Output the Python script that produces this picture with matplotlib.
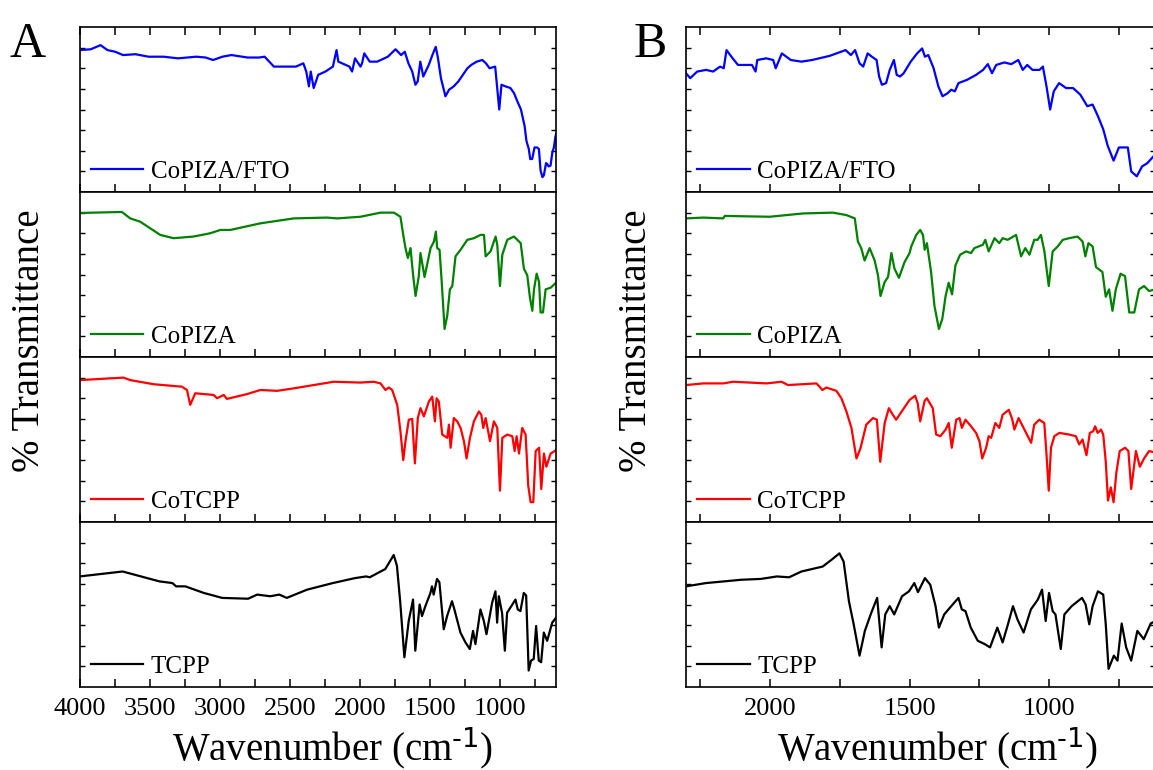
import matplotlib
matplotlib.use("Agg")
import matplotlib.pyplot as plt
from matplotlib.ticker import MultipleLocator, NullFormatter

plt.rcParams['font.family'] = ['Liberation Serif', 'DejaVu Serif']
plt.rcParams['mathtext.default'] = 'regular'

# ---------------- data (wavenumber, normalised transmittance within each panel) ----------------
# Panel A (4000-600 cm-1)
a_fto_wn = [4000, 3920, 3850, 3800, 3745, 3690, 3600, 3508, 3400, 3297, 3166, 3100, 3047, 2980, 2916,
            2800, 2718, 2679, 2613, 2455, 2403, 2382, 2363, 2350, 2329, 2297, 2245, 2192, 2166, 2153,
            2074, 2055, 2034, 1995, 1984, 1968, 1929, 1876, 1800, 1745, 1705, 1679, 1653, 1626, 1603,
            1587, 1568, 1547, 1508, 1482, 1458, 1442, 1421, 1389, 1363, 1330, 1297, 1232, 1205, 1166,
            1126, 1100, 1074, 1034, 1005, 989, 960, 925, 900, 876, 850, 824, 811, 794, 784, 770, 753,
            735, 722, 710, 697, 687, 671, 663, 653, 639, 626, 615, 605, 600]
a_fto_t = [0.86, 0.865, 0.89, 0.86, 0.85, 0.83, 0.835, 0.82, 0.82, 0.81, 0.82, 0.815, 0.80, 0.82, 0.83,
           0.815, 0.815, 0.82, 0.76, 0.76, 0.78, 0.73, 0.64, 0.73, 0.63, 0.71, 0.73, 0.76, 0.86, 0.79,
           0.76, 0.73, 0.81, 0.76, 0.78, 0.84, 0.79, 0.79, 0.82, 0.865, 0.83, 0.85, 0.78, 0.73, 0.65,
           0.67, 0.79, 0.70, 0.77, 0.83, 0.88, 0.81, 0.69, 0.58, 0.62, 0.64, 0.67, 0.75, 0.77, 0.79,
           0.80, 0.78, 0.75, 0.76, 0.50, 0.65, 0.64, 0.63, 0.60, 0.55, 0.50, 0.40, 0.31, 0.26, 0.20, 0.20,
           0.27, 0.27, 0.26, 0.13, 0.09, 0.10, 0.175, 0.17, 0.155, 0.16, 0.24, 0.27, 0.33, 0.35]

a_copiza_wn = [4000, 3698, 3638, 3567, 3424, 3329, 3186, 3067, 2995, 2924, 2710, 2471, 2233, 2162, 1995,
               1852, 1757, 1710, 1690, 1674, 1657, 1638, 1619, 1602, 1579, 1567, 1538, 1495, 1471, 1457,
               1448, 1431, 1417, 1395, 1376, 1357, 1340, 1317, 1281, 1233, 1186, 1138, 1114, 1102, 1067,
               1031, 1019, 1000, 983, 948, 900, 852, 829, 805, 786, 769, 757, 738, 721, 710, 693, 674,
               638, 600]
a_copiza_t = [0.873, 0.879, 0.84, 0.82, 0.74, 0.72, 0.73, 0.75, 0.77, 0.77, 0.81, 0.84, 0.845, 0.84, 0.85,
              0.875, 0.875, 0.85, 0.74, 0.66, 0.60, 0.66, 0.49, 0.37, 0.49, 0.63, 0.485, 0.66, 0.70, 0.76,
              0.66, 0.65, 0.475, 0.17, 0.25, 0.41, 0.43, 0.61, 0.65, 0.71, 0.72, 0.74, 0.74, 0.61, 0.64,
              0.73, 0.68, 0.43, 0.62, 0.71, 0.73, 0.69, 0.535, 0.495, 0.36, 0.28, 0.41, 0.505, 0.455, 0.27,
              0.27, 0.41, 0.42, 0.45]

a_cotcpp_wn = [4000, 3686, 3638, 3471, 3269, 3233, 3210, 3174, 3043, 3019, 2971, 2948, 2805, 2710, 2590,
               2471, 2329, 2186, 1995, 1900, 1852, 1817, 1793, 1769, 1733, 1710, 1690, 1674, 1650, 1626,
               1607, 1586, 1567, 1543, 1507, 1483, 1464, 1452, 1436, 1412, 1376, 1364, 1352, 1329, 1305,
               1281, 1257, 1238, 1214, 1186, 1150, 1133, 1119, 1102, 1071, 1043, 1019, 1000, 983, 948,
               912, 895, 881, 864, 841, 817, 798, 781, 762, 745, 721, 705, 686, 669, 638, 600]
a_cotcpp_t = [0.86, 0.875, 0.86, 0.835, 0.82, 0.80, 0.71, 0.78, 0.77, 0.75, 0.77, 0.746, 0.775, 0.80, 0.795,
              0.81, 0.83, 0.85, 0.845, 0.85, 0.84, 0.80, 0.815, 0.80, 0.71, 0.55, 0.375, 0.49, 0.62, 0.625,
              0.355, 0.63, 0.69, 0.64, 0.73, 0.76, 0.61, 0.75, 0.73, 0.53, 0.51, 0.59, 0.45, 0.63, 0.61,
              0.57, 0.49, 0.385, 0.51, 0.61, 0.67, 0.65, 0.57, 0.63, 0.49, 0.61, 0.57, 0.19, 0.51, 0.53,
              0.52, 0.43, 0.52, 0.415, 0.57, 0.53, 0.22, 0.12, 0.12, 0.43, 0.45, 0.20, 0.415, 0.335, 0.415,
              0.435]

a_tcpp_wn = [4000, 3692, 3561, 3429, 3337, 3311, 3245, 3113, 2982, 2797, 2732, 2639, 2574, 2521, 2376,
             2192, 2034, 1955, 1929, 1818, 1758, 1735, 1711, 1682, 1651, 1620, 1604, 1573, 1556, 1532,
             1496, 1485, 1473, 1449, 1432, 1401, 1377, 1342, 1325, 1282, 1246, 1215, 1192, 1175, 1139,
             1115, 1096, 1056, 1032, 1020, 1008, 985, 965, 949, 889, 873, 854, 830, 813, 795, 778, 759,
             742, 723, 706, 687, 663, 627, 600]
a_tcpp_t = [0.67, 0.70, 0.67, 0.64, 0.63, 0.61, 0.61, 0.57, 0.54, 0.535, 0.56, 0.55, 0.56, 0.54, 0.59,
            0.63, 0.66, 0.67, 0.665, 0.715, 0.80, 0.735, 0.51, 0.18, 0.40, 0.53, 0.22, 0.50, 0.43, 0.49,
            0.57, 0.61, 0.56, 0.655, 0.635, 0.35, 0.43, 0.52, 0.47, 0.33, 0.27, 0.23, 0.34, 0.26, 0.47,
            0.40, 0.32, 0.51, 0.58, 0.39, 0.55, 0.45, 0.22, 0.45, 0.53, 0.47, 0.46, 0.57, 0.555, 0.10, 0.16,
            0.17, 0.37, 0.16, 0.15, 0.33, 0.28, 0.39, 0.42]

# Panel B (2300-620 cm-1)
b_fto_wn = [2300, 2285, 2260, 2228, 2203, 2178, 2165, 2155, 2133, 2114, 2064, 2051, 2045, 2013, 1988,
            1979, 1957, 1925, 1887, 1849, 1786, 1729, 1710, 1695, 1679, 1666, 1650, 1635, 1618, 1609,
            1599, 1584, 1571, 1556, 1546, 1534, 1521, 1496, 1473, 1455, 1445, 1433, 1414, 1397, 1382,
            1363, 1351, 1338, 1325, 1294, 1262, 1237, 1220, 1205, 1190, 1161, 1136, 1111, 1095, 1079,
            1060, 1035, 1023, 1010, 997, 984, 965, 940, 915, 889, 864, 845, 826, 807, 791, 770, 751,
            719, 707, 687, 668, 649, 620]
b_fto_t = [0.72, 0.69, 0.73, 0.74, 0.73, 0.76, 0.75, 0.86, 0.81, 0.77, 0.77, 0.73, 0.80, 0.81, 0.80,
           0.75, 0.84, 0.80, 0.79, 0.80, 0.825, 0.86, 0.83, 0.86, 0.78, 0.76, 0.84, 0.82, 0.80, 0.70,
           0.65, 0.66, 0.74, 0.80, 0.71, 0.70, 0.72, 0.79, 0.84, 0.87, 0.82, 0.83, 0.75, 0.64, 0.58,
           0.60, 0.62, 0.61, 0.66, 0.68, 0.71, 0.74, 0.775, 0.72, 0.77, 0.785, 0.775, 0.80, 0.74, 0.77,
           0.74, 0.74, 0.76, 0.64, 0.50, 0.61, 0.66, 0.63, 0.63, 0.59, 0.52, 0.53, 0.46, 0.38, 0.28, 0.19,
           0.27, 0.27, 0.125, 0.095, 0.155, 0.175, 0.23]

b_copiza_wn = [2300, 2238, 2167, 2161, 2000, 1881, 1774, 1726, 1696, 1685, 1673, 1661, 1643, 1625, 1613,
               1604, 1589, 1577, 1565, 1554, 1538, 1518, 1500, 1494, 1476, 1462, 1452, 1446, 1438, 1423,
               1411, 1395, 1383, 1371, 1360, 1348, 1336, 1319, 1298, 1280, 1268, 1238, 1229, 1217, 1196,
               1179, 1167, 1149, 1119, 1101, 1086, 1071, 1054, 1042, 1030, 1018, 1002, 988, 970, 952, 929,
               899, 881, 871, 860, 845, 833, 810, 798, 786, 774, 762, 745, 729, 714, 696, 679, 661, 643, 620]
b_copiza_t = [0.84, 0.845, 0.84, 0.855, 0.85, 0.87, 0.875, 0.86, 0.84, 0.70, 0.66, 0.585, 0.66, 0.585, 0.495,
              0.37, 0.455, 0.485, 0.63, 0.535, 0.48, 0.575, 0.63, 0.67, 0.74, 0.77, 0.74, 0.65, 0.69, 0.515,
              0.31, 0.17, 0.23, 0.37, 0.45, 0.38, 0.555, 0.62, 0.64, 0.63, 0.66, 0.68, 0.71, 0.64, 0.72,
              0.69, 0.72, 0.71, 0.74, 0.61, 0.66, 0.62, 0.71, 0.71, 0.74, 0.645, 0.43, 0.64, 0.67, 0.71, 0.72,
              0.73, 0.70, 0.61, 0.69, 0.67, 0.545, 0.515, 0.365, 0.41, 0.28, 0.41, 0.505, 0.49, 0.27, 0.27,
              0.41, 0.43, 0.40, 0.41]

b_cotcpp_wn = [2300, 2238, 2167, 2131, 2012, 1958, 1935, 1833, 1812, 1798, 1762, 1744, 1726, 1708, 1690,
               1676, 1655, 1631, 1617, 1605, 1589, 1574, 1560, 1548, 1524, 1500, 1480, 1471, 1462, 1446,
               1438, 1417, 1405, 1390, 1371, 1360, 1349, 1333, 1321, 1313, 1300, 1280, 1262, 1250, 1240,
               1226, 1217, 1208, 1193, 1179, 1167, 1145, 1133, 1125, 1110, 1095, 1077, 1065, 1054, 1036,
               1018, 1010, 1002, 994, 982, 964, 929, 905, 893, 881, 867, 855, 843, 836, 827, 815, 807, 798,
               790, 780, 770, 760, 748, 729, 717, 707, 690, 676, 661, 643, 620]
b_cotcpp_t = [0.83, 0.84, 0.84, 0.85, 0.84, 0.85, 0.83, 0.84, 0.80, 0.815, 0.795, 0.75, 0.67, 0.57, 0.385,
              0.445, 0.59, 0.63, 0.62, 0.365, 0.60, 0.69, 0.65, 0.62, 0.68, 0.74, 0.765, 0.72, 0.61, 0.735,
              0.75, 0.69, 0.53, 0.52, 0.56, 0.60, 0.45, 0.62, 0.63, 0.57, 0.62, 0.58, 0.54, 0.49, 0.385,
              0.45, 0.52, 0.51, 0.60, 0.57, 0.65, 0.68, 0.625, 0.56, 0.63, 0.58, 0.52, 0.48, 0.59, 0.62,
              0.60, 0.41, 0.19, 0.45, 0.52, 0.54, 0.53, 0.52, 0.47, 0.50, 0.405, 0.54, 0.55, 0.58, 0.54,
              0.56, 0.53, 0.365, 0.13, 0.21, 0.12, 0.30, 0.43, 0.45, 0.43, 0.20, 0.43, 0.335, 0.385, 0.43,
              0.42]

b_tcpp_wn = [2300, 2228, 2165, 2102, 2032, 1975, 1931, 1887, 1811, 1780, 1751, 1736, 1717, 1700, 1679,
             1660, 1637, 1616, 1600, 1587, 1571, 1555, 1527, 1502, 1483, 1470, 1445, 1426, 1407, 1395,
             1376, 1351, 1325, 1313, 1300, 1281, 1256, 1231, 1212, 1186, 1167, 1148, 1130, 1114, 1092,
             1066, 1041, 1026, 1013, 1001, 988, 978, 959, 946, 920, 883, 870, 857, 845, 826, 807, 798,
             788, 769, 756, 741, 725, 707, 685, 662, 637, 620]
b_tcpp_t = [0.61, 0.63, 0.64, 0.65, 0.655, 0.67, 0.665, 0.70, 0.73, 0.77, 0.81, 0.76, 0.52, 0.38, 0.19,
            0.34, 0.45, 0.54, 0.24, 0.44, 0.49, 0.44, 0.55, 0.58, 0.63, 0.575, 0.66, 0.62, 0.49, 0.36,
            0.44, 0.49, 0.54, 0.47, 0.46, 0.36, 0.28, 0.26, 0.24, 0.36, 0.27, 0.38, 0.49, 0.41, 0.33,
            0.47, 0.53, 0.59, 0.40, 0.57, 0.46, 0.44, 0.23, 0.44, 0.49, 0.54, 0.50, 0.38, 0.49, 0.58,
            0.56, 0.38, 0.11, 0.19, 0.16, 0.385, 0.24, 0.16, 0.34, 0.29, 0.385, 0.40]

labels = ['CoPIZA/FTO', 'CoPIZA', 'CoTCPP', 'TCPP']
colors = ['#0000FF', '#008000', '#FF0000', '#000000']

panel_a = [(a_fto_wn, a_fto_t), (a_copiza_wn, a_copiza_t), (a_cotcpp_wn, a_cotcpp_t), (a_tcpp_wn, a_tcpp_t)]
panel_b = [(b_fto_wn, b_fto_t), (b_copiza_wn, b_copiza_t), (b_cotcpp_wn, b_cotcpp_t), (b_tcpp_wn, b_tcpp_t)]

xlim_a = (4000, 600)
xlim_b = (2300, 620)
xticks_a = [4000, 3500, 3000, 2500, 2000, 1500, 1000]
xticks_b = [2000, 1500, 1000]

# ---------------- layout ----------------
W, H = 1153, 770
fig = plt.figure(figsize=(W / 100, H / 100), dpi=100)

top_px = 27.0
panel_h = 165.0


def build(panel, left_px, right_px, xlim, xticks):
    axes = []
    for i, ((wn, t), lab, col) in enumerate(zip(panel, labels, colors)):
        y_top = top_px + i * panel_h
        rect = [left_px / W, 1 - (y_top + panel_h) / H, (right_px - left_px) / W, panel_h / H]
        ax = fig.add_axes(rect)
        ax.plot(wn, t, color=col, lw=1.6, label=lab)
        ax.set_xlim(*xlim)
        ax.set_ylim(0, 1)
        ax.set_xticks(xticks)
        ax.xaxis.set_minor_locator(MultipleLocator(250))
        ax.set_yticks([0.125 * k for k in range(1, 8)])
        ax.yaxis.set_major_formatter(NullFormatter())
        for s in ax.spines.values():
            s.set_linewidth(1.2)
        ax.tick_params(axis='x', which='both', direction='in', length=6, width=1.1,
                       top=(i == 0), bottom=True, labelsize=19, pad=8)
        ax.tick_params(axis='y', which='both', direction='in', length=3.5, width=1.0,
                       left=True, right=True, labelleft=False)
        if i < 3:
            ax.tick_params(axis='x', labelbottom=False)
        ax.legend(loc='lower left', bbox_to_anchor=(0.0235, 0.055), frameon=False,
                  handlelength=2.1, handletextpad=0.3, borderpad=0, borderaxespad=0,
                  fontsize=18)
        axes.append(ax)
    return axes


build(panel_a, 79.5, 556.0, xlim_a, xticks_a)
build(panel_b, 686.0, 1155.5, xlim_b, xticks_b)

# axis titles and panel letters
xlabel_text = 'Wavenumber (cm$^{\\text{-1}}$)'
fig.text(30 / W, 1 - 341 / H, '% Transmittance', rotation=90, ha='center', va='center', fontsize=28)
fig.text(637 / W, 1 - 341 / H, '% Transmittance', rotation=90, ha='center', va='center', fontsize=28)
fig.text(333 / W, 1 - 760 / H, xlabel_text, ha='center', va='baseline', fontsize=28)
fig.text(938 / W, 1 - 760 / H, xlabel_text, ha='center', va='baseline', fontsize=28)
fig.text(9 / W, 1 - 57 / H, 'A', ha='left', va='baseline', fontsize=36)
fig.text(634 / W, 1 - 57 / H, 'B', ha='left', va='baseline', fontsize=36)

fig.savefig('out.png', dpi=100)
